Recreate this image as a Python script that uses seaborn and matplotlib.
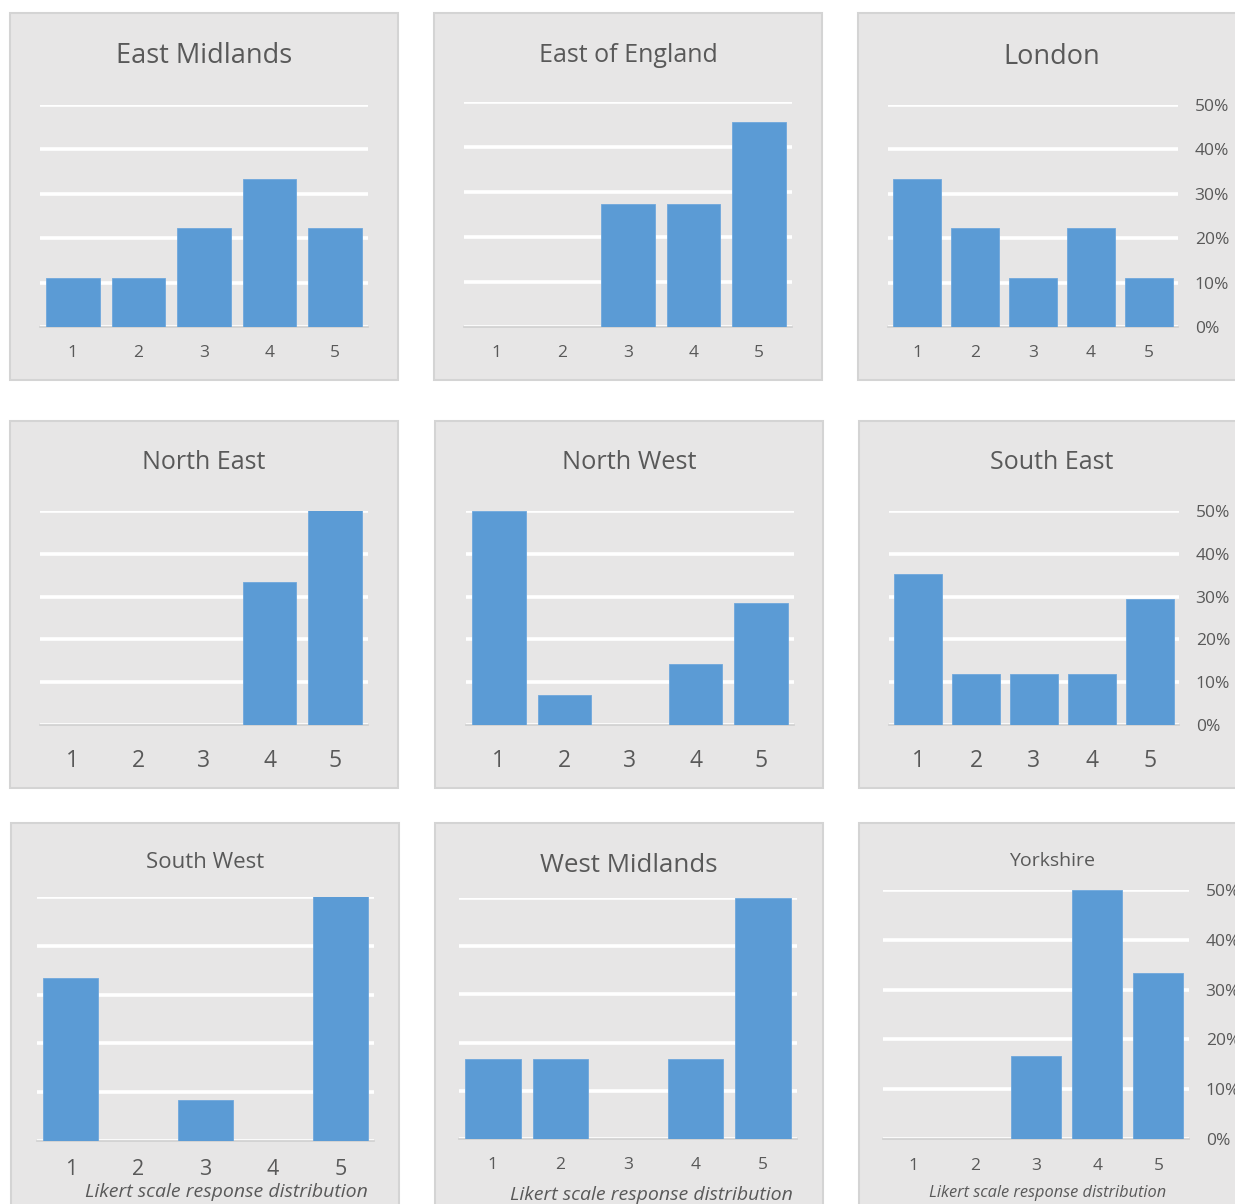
import matplotlib
matplotlib.use("Agg")
import matplotlib.pyplot as plt
import matplotlib.patches as patches
from matplotlib.ticker import PercentFormatter
import seaborn as sns

# likert categories and share of responses per region
likert = [1, 2, 3, 4, 5]
regions = ["East Midlands", "East of England", "London",
           "North East", "North West", "South East",
           "South West", "West Midlands", "Yorkshire"]
east_midlands = [0.111, 0.111, 0.222, 0.333, 0.222]
east_of_england = [0.0, 0.0, 0.273, 0.273, 0.455]
london = [0.333, 0.222, 0.111, 0.222, 0.111]
north_east = [0.0, 0.0, 0.0, 0.333, 0.667]
north_west = [0.5, 0.071, 0.0, 0.143, 0.286]
south_east = [0.353, 0.118, 0.118, 0.118, 0.294]
south_west = [0.333, 0.0, 0.083, 0.0, 0.583]
west_midlands = [0.167, 0.167, 0.0, 0.167, 0.5]
yorkshire = [0.0, 0.0, 0.167, 0.5, 0.333]
valores = [east_midlands, east_of_england, london, north_east, north_west,
           south_east, south_west, west_midlands, yorkshire]
xlabel = "Likert scale response distribution"

W, H = 1235, 1204
BAR = "#5B9BD5"
FUNDO = "#E7E6E6"
TEXTO = "#595959"

sns.set_theme(style="white")
plt.rcParams['font.family'] = ['Open Sans', 'DejaVu Sans']

# layout em pixels: painel, area do grafico, titulo, tamanhos
paineis = [(10, 13, 398, 380), (434, 13, 822, 380), (858, 13, 1245, 380),
           (10, 421, 398, 788), (435, 421, 823, 788), (859, 421, 1245, 788),
           (11, 823, 399, 1215), (435, 823, 823, 1215), (859, 823, 1245, 1215)]
areas = [(40, 105, 368, 327), (464, 102, 792, 327), (888, 105, 1178, 327),
         (40, 511, 368, 725), (466, 511, 794, 725), (889, 511, 1179, 725),
         (37, 897, 374, 1141), (459, 898, 797, 1139), (883, 890, 1189, 1139)]
titulos_y = [63, 62, 64, 469, 469, 469, 868, 872, 866]
titulo_fs = [19.5, 18, 19.5, 18, 18.3, 18, 16, 18.6, 14]
tick_fs = [12.5, 12.5, 12.5, 16.5, 16.5, 16.5, 15.5, 12.5, 12.5]
tick_pad = [12.8, 12.8, 12.8, 17.5, 17.5, 17.5, 13.2, 12.8, 13.5]
label_y = [1197, 1200, 1197]
label_x = [226, 651, 1048]
label_fs = [14, 14, 11.8]


def frac(l, t, r, b):
    return [l / W, 1 - b / H, (r - l) / W, (b - t) / H]


fig = plt.figure(figsize=(W / 100, H / 100), dpi=100)
fig.patch.set_facecolor("white")

for i, nome in enumerate(regions):
    l, t, r, b = paineis[i]
    rect = patches.Rectangle((l / W, 1 - b / H), (r - l) / W, (b - t) / H,
                             transform=fig.transFigure, facecolor=FUNDO,
                             edgecolor="#D4D4D4", linewidth=1.5, zorder=-5)
    fig.add_artist(rect)

    ax = fig.add_axes(frac(*areas[i]))
    ax.set_facecolor("none")
    sns.barplot(x=likert, y=valores[i], ax=ax, color=BAR, saturation=1,
                width=0.82, edgecolor="#6FA8DC", linewidth=0.6, zorder=3)
    ax.set_ylim(0, 0.5)
    ax.set_xlim(-0.5, 4.5)
    ax.set_yticks([0, 0.1, 0.2, 0.3, 0.4, 0.5])
    ax.yaxis.set_major_formatter(PercentFormatter(1, decimals=0))
    ax.grid(axis="y", color="white", linewidth=2.6)
    ax.grid(axis="x", visible=False)
    ax.set_axisbelow(True)
    for s in ["top", "left", "right"]:
        ax.spines[s].set_visible(False)
    ax.spines["bottom"].set_color("#D0D0D0")
    ax.spines["bottom"].set_linewidth(1.2)
    ax.tick_params(axis="x", length=0, pad=tick_pad[i], labelsize=tick_fs[i],
                   labelcolor=TEXTO)
    if i % 3 == 2:
        ax.yaxis.tick_right()
        ax.tick_params(axis="y", length=0, pad=12, labelsize=12.5,
                       labelcolor=TEXTO)
    else:
        ax.tick_params(axis="y", length=0, labelleft=False, labelright=False)
    ax.set_xlabel("")
    ax.set_ylabel("")

    cx = (paineis[i][0] + paineis[i][2]) / 2
    if i % 3 == 2:
        cx = 1052
    fig.text(cx / W, 1 - titulos_y[i] / H, nome, ha="center", va="baseline",
             fontsize=titulo_fs[i], color=TEXTO)

# legenda do eixo x na ultima linha
for x, y, fs in zip(label_x, label_y, label_fs):
    fig.text(x / W, 1 - y / H, xlabel, ha="center", va="baseline",
             fontsize=fs, style="italic", color=TEXTO)

fig.savefig("out.png", dpi=100)
